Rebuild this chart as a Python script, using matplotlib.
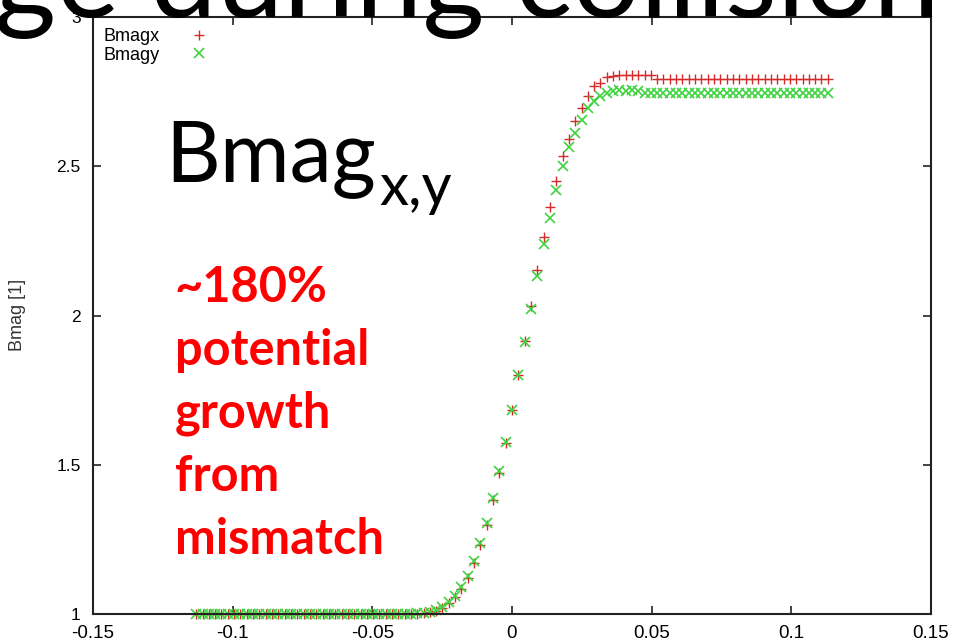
import matplotlib
matplotlib.use("Agg")
import matplotlib.pyplot as plt

# position along the collision axis
pos = [-0.1130, -0.1107, -0.1085, -0.1062, -0.1040, -0.1017, -0.0994, -0.0972, -0.0949, -0.0927,
       -0.0904, -0.0881, -0.0859, -0.0836, -0.0814, -0.0791, -0.0768, -0.0746, -0.0723, -0.0701,
       -0.0678, -0.0655, -0.0633, -0.0610, -0.0588, -0.0565, -0.0542, -0.0520, -0.0497, -0.0475,
       -0.0452, -0.0429, -0.0407, -0.0384, -0.0362, -0.0339, -0.0316, -0.0294, -0.0271, -0.0249,
       -0.0226, -0.0203, -0.0181, -0.0158, -0.0136, -0.0113, -0.0090, -0.0068, -0.0045, -0.0023,
       0.0,
       0.0023, 0.0045, 0.0068, 0.0090, 0.0113, 0.0136, 0.0158, 0.0181, 0.0203, 0.0226,
       0.0249, 0.0271, 0.0294, 0.0316, 0.0339, 0.0362, 0.0384, 0.0407, 0.0429, 0.0452,
       0.0475, 0.0497, 0.0520, 0.0542, 0.0565, 0.0588, 0.0610, 0.0633, 0.0655, 0.0678,
       0.0701, 0.0723, 0.0746, 0.0768, 0.0791, 0.0814, 0.0836, 0.0859, 0.0881, 0.0904,
       0.0927, 0.0949, 0.0972, 0.0994, 0.1017, 0.1040, 0.1062, 0.1085, 0.1107, 0.1130]

bmagx = [1.0, 1.0, 1.0, 1.0, 1.0, 1.0, 1.0, 1.0, 1.0, 1.0,
         1.0, 1.0, 1.0, 1.0, 1.0, 1.0, 1.0, 1.0, 1.0, 1.0,
         1.0, 1.0, 1.0, 1.0, 1.0, 1.0, 1.0, 1.0, 1.0, 1.0,
         1.0, 1.0, 1.0, 1.0, 1.0, 1.001, 1.004, 1.007, 1.011, 1.021,
         1.037, 1.056, 1.085, 1.122, 1.170, 1.231, 1.298, 1.382, 1.474, 1.573,
         1.684, 1.801, 1.916, 2.033, 2.152, 2.263, 2.363, 2.451, 2.533, 2.591,
         2.652, 2.695, 2.734, 2.769, 2.779, 2.798, 2.802, 2.807, 2.807, 2.807,
         2.807, 2.807, 2.807, 2.792, 2.792, 2.792, 2.792, 2.792, 2.792, 2.792,
         2.792, 2.792, 2.792, 2.792, 2.792, 2.792, 2.792, 2.792, 2.792, 2.792,
         2.792, 2.792, 2.792, 2.792, 2.792, 2.792, 2.792, 2.792, 2.792, 2.792,
         2.792]

bmagy = [1.0, 1.0, 1.0, 1.0, 1.0, 1.0, 1.0, 1.0, 1.0, 1.0,
         1.0, 1.0, 1.0, 1.0, 1.0, 1.0, 1.0, 1.0, 1.0, 1.0,
         1.0, 1.0, 1.0, 1.0, 1.0, 1.0, 1.0, 1.0, 1.0, 1.0,
         1.0, 1.0, 1.0, 1.0, 1.0, 1.002, 1.005, 1.008, 1.013, 1.024,
         1.041, 1.061, 1.090, 1.128, 1.176, 1.237, 1.304, 1.388, 1.478, 1.576,
         1.685, 1.800, 1.912, 2.022, 2.132, 2.241, 2.328, 2.419, 2.501, 2.563,
         2.613, 2.655, 2.695, 2.718, 2.736, 2.747, 2.752, 2.756, 2.752, 2.756,
         2.752, 2.744, 2.744, 2.744, 2.744, 2.744, 2.744, 2.744, 2.744, 2.744,
         2.744, 2.744, 2.744, 2.744, 2.744, 2.744, 2.744, 2.744, 2.744, 2.744,
         2.744, 2.744, 2.744, 2.744, 2.744, 2.744, 2.744, 2.744, 2.744, 2.744,
         2.744]

xticks = [-0.15, -0.1, -0.05, 0, 0.05, 0.1, 0.15]
xtick_labels = ["-0.15", "-0.1", "-0.05", "0", "0.05", "0.1", "0.15"]
yticks = [1, 1.5, 2, 2.5, 3]
ytick_labels = ["1", "1.5", "2", "2.5", "3"]

W, H = 954, 642
fig = plt.figure(figsize=(W / 100, H / 100), dpi=100)
fig.patch.set_facecolor("white")
ax = fig.add_axes([93 / W, 1 - 614 / H, (931 - 93) / W, (614 - 17) / H])

ax.plot(pos, bmagx, linestyle="none", marker="+", markersize=7, mew=1.0,
        color="#d42a2a", label="Bmagx", clip_on=False)
ax.plot(pos, bmagy, linestyle="none", marker="x", markersize=6.5, mew=1.2,
        color="#3fd23f", label="Bmagy", clip_on=False)

ax.set_xlim(-0.15, 0.15)
ax.set_ylim(1, 3)
ax.set_xticks(xticks)
ax.set_xticklabels(xtick_labels, fontsize=13.5, family="Liberation Sans")
ax.set_yticks(yticks)
ax.set_yticklabels(ytick_labels, fontsize=12.5, family="Liberation Sans")
ax.tick_params(direction="in", length=6, width=1.2, top=True, right=True, color="#222222")
ax.tick_params(axis="x", pad=8)
ax.tick_params(axis="y", pad=9)
for s in ax.spines.values():
    s.set_linewidth(1.5)
    s.set_color("#222222")

fig.text(18 / W, 1 - 315 / H, "Bmag [1]", rotation=90, ha="center", va="center",
         fontsize=13, family="Liberation Sans", color="#333333")

leg = ax.legend(loc="upper left", markerfirst=False, frameon=False,
                prop={"family": "Liberation Sans", "size": 13},
                handlelength=1.5, handletextpad=1.4, labelspacing=0.1,
                borderaxespad=0.3, borderpad=0.3)

# slide overlay text
fig.text(-6 / W, 1 - 17 / H, "ge during collision", ha="left", va="baseline",
         fontsize=86, family="Lato", color="black")
fig.text(165 / W, 1 - 181 / H, "Bmag", ha="left", va="baseline",
         fontsize=61, family="Lato", color="black")
fig.text(379 / W, 1 - 205 / H, "x,y", ha="left", va="baseline",
         fontsize=42, family="Lato", color="black")

red_lines = ["~180%", "potential", "growth", "from", "mismatch"]
for i, line in enumerate(red_lines):
    fig.text(175 / W, 1 - (302 + 63 * i) / H, line, ha="left", va="baseline",
             fontsize=35, family="Lato", fontweight="bold", color="#ff0000")

fig.savefig("out.png", dpi=100)
